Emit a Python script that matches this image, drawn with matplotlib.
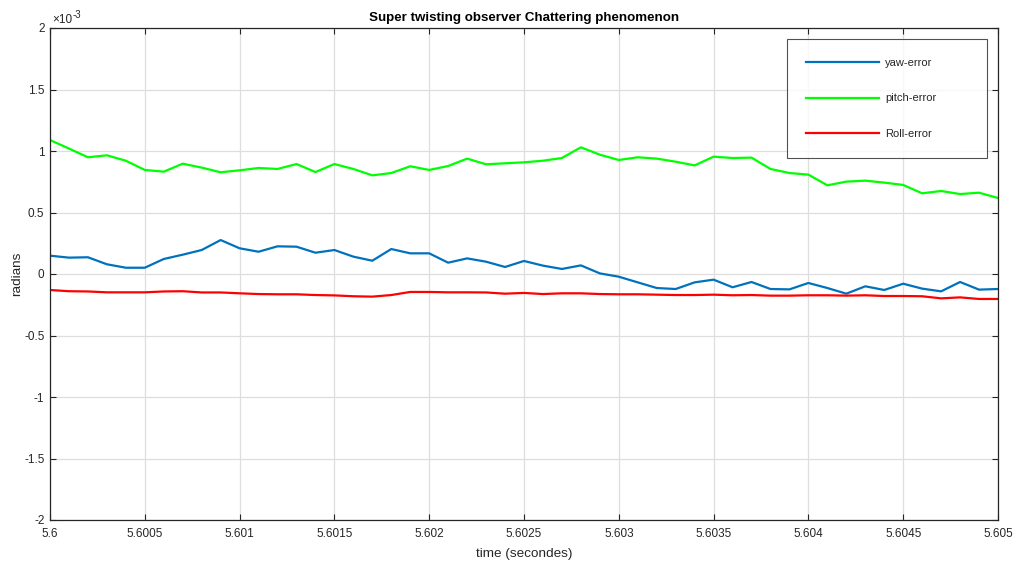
import numpy as np
import matplotlib
matplotlib.use("Agg")
import matplotlib.pyplot as plt
from matplotlib.ticker import FuncFormatter, MultipleLocator
from matplotlib.transforms import offset_copy

plt.rcParams['font.family'] = ['Liberation Sans', 'DejaVu Sans']
plt.rcParams['axes.unicode_minus'] = False

# time samples (s)
time = [round(5.6 + 0.0001 * i, 4) for i in range(51)]

# errors in units of 1e-3 rad
yaw_error = [0.149, 0.133, 0.136, 0.079, 0.051, 0.051, 0.122, 0.157, 0.195, 0.276,
             0.209, 0.181, 0.225, 0.222, 0.173, 0.195, 0.141, 0.108, 0.203, 0.168,
             0.168, 0.092, 0.127, 0.100, 0.057, 0.106, 0.068, 0.041, 0.070, 0.005,
             -0.022, -0.068, -0.114, -0.122, -0.068, -0.046, -0.108, -0.065, -0.122, -0.125,
             -0.073, -0.114, -0.160, -0.100, -0.130, -0.079, -0.119, -0.141, -0.065, -0.127,
             -0.122]
pitch_error = [1.089, 1.020, 0.949, 0.965, 0.921, 0.846, 0.832, 0.897, 0.865, 0.827,
               0.843, 0.862, 0.854, 0.894, 0.829, 0.894, 0.854, 0.802, 0.821, 0.876,
               0.846, 0.878, 0.938, 0.892, 0.900, 0.908, 0.921, 0.943, 1.030, 0.970,
               0.927, 0.949, 0.938, 0.913, 0.883, 0.954, 0.943, 0.946, 0.854, 0.821,
               0.808, 0.721, 0.751, 0.759, 0.743, 0.724, 0.656, 0.675, 0.650, 0.661,
               0.618]
roll_error = [-0.130, -0.140, -0.142, -0.149, -0.149, -0.149, -0.142, -0.140, -0.150, -0.150,
              -0.157, -0.163, -0.165, -0.165, -0.171, -0.174, -0.181, -0.184, -0.171, -0.146,
              -0.146, -0.149, -0.149, -0.150, -0.160, -0.154, -0.163, -0.157, -0.157, -0.163,
              -0.165, -0.165, -0.168, -0.171, -0.171, -0.168, -0.173, -0.171, -0.176, -0.176,
              -0.173, -0.173, -0.176, -0.173, -0.179, -0.179, -0.181, -0.198, -0.190, -0.203,
              -0.203]

labels = ['yaw-error', 'pitch-error', 'Roll-error']
colors = ['#0072BD', '#00FF00', '#FF0000']

fig = plt.figure(figsize=(10.17, 5.66), dpi=100)
ax = fig.add_axes([50/1017, 1-520/566, 948/1017, 492/566])

for s, lab, c in zip([yaw_error, pitch_error, roll_error], labels, colors):
    ax.plot(time, s, color=c, lw=1.6, label=lab)

ax.set_xlim(5.6, 5.605)
ax.set_ylim(-2, 2)
ax.xaxis.set_major_locator(MultipleLocator(0.0005))
ax.yaxis.set_major_locator(MultipleLocator(0.5))
ax.xaxis.set_major_formatter(FuncFormatter(lambda v, p: '{:g}'.format(round(v, 5))))
ax.yaxis.set_major_formatter(FuncFormatter(lambda v, p: '{:g}'.format(round(v, 3))))

ax.grid(True, color='#dedede', lw=0.9)
ax.set_axisbelow(True)
for sp in ax.spines.values():
    sp.set_color('#262626')
    sp.set_linewidth(0.9)
ax.tick_params(direction='in', top=True, right=True, length=4.5, width=0.8,
               colors='#262626', labelsize=8.5)
ax.tick_params(axis='x', pad=6)
ax.tick_params(axis='y', pad=4)

ax.set_title('Super twisting observer Chattering phenomenon', fontsize=9.6,
             fontweight='bold', pad=5)
ax.set_xlabel('time (secondes)', fontsize=9.7, color='#262626', labelpad=5.5)
ax.set_ylabel('radians', fontsize=9.7, color='#262626', labelpad=0.5)

base = ax.text(0.002, 1.004, '\u00d710', transform=ax.transAxes, fontsize=8.5,
               color='#262626', va='bottom', ha='left')
ax.text(0.002, 1.004, '-3', transform=offset_copy(ax.transAxes, fig=fig, x=14.8, y=4.5,
        units='points'), fontsize=7, color='#262626', va='bottom', ha='left')

leg = ax.legend(loc='upper left', bbox_to_anchor=(737/948, 362/492, 200/948, 119/492),
                mode='expand', borderaxespad=0, fontsize=8, frameon=True,
                fancybox=False, edgecolor='#262626', handlelength=6.6,
                handletextpad=0.55, labelspacing=2.32, borderpad=1.68)
leg.get_frame().set_linewidth(0.8)
for t in leg.get_texts():
    t.set_color('#262626')

fig.savefig('out.png', dpi=100)
